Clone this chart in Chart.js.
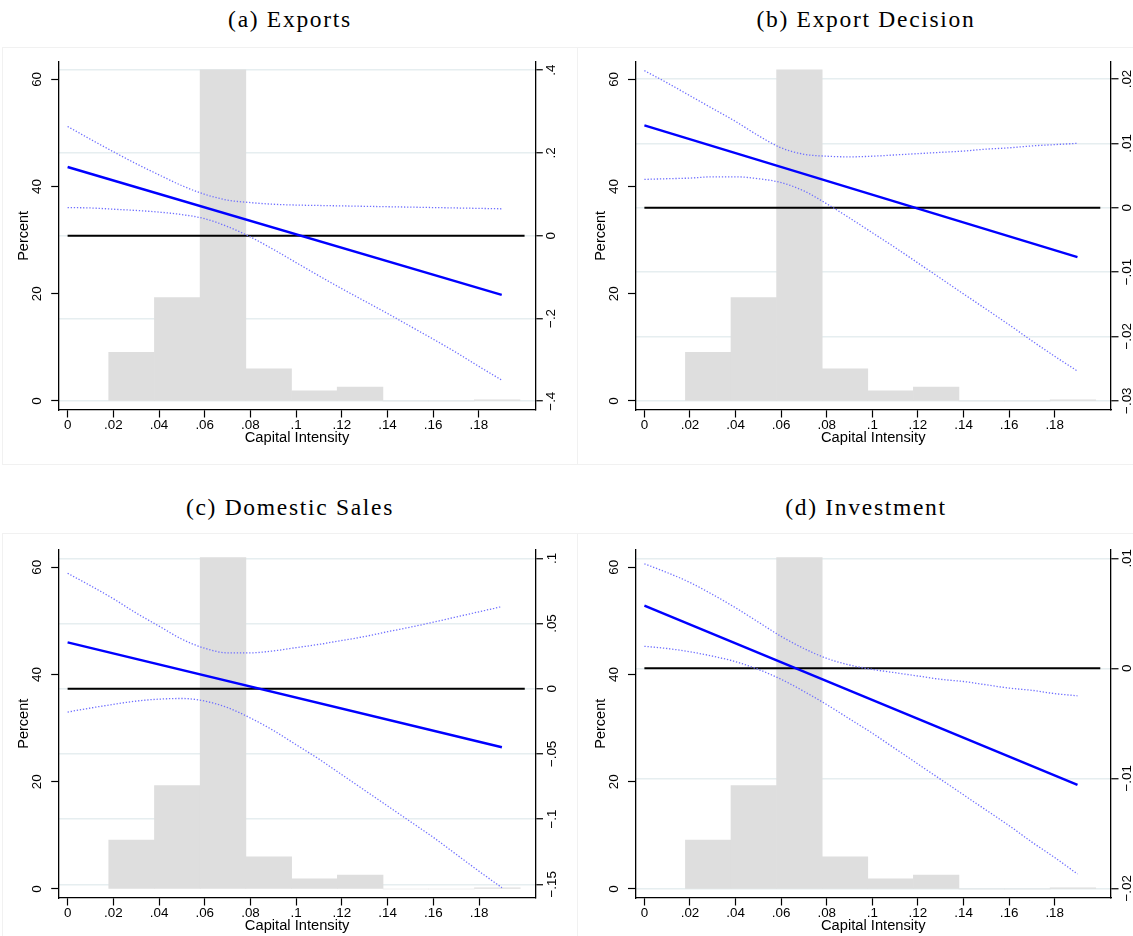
<!DOCTYPE html>
<html><head><meta charset="utf-8">
<script src="https://cdn.jsdelivr.net/npm/chart.js@4.4.1/dist/chart.umd.min.js"></script>
<style>
html,body{margin:0;padding:0;background:#fff;}
body{width:1133px;height:936px;position:relative;overflow:hidden;}
canvas{position:absolute;}
.frame{position:absolute;border:1px solid #f1f1f1;box-sizing:border-box;}
.ptitle{position:absolute;font-family:"Liberation Serif","Times New Roman",serif;font-size:23.5px;letter-spacing:1.7px;white-space:nowrap;transform:translate(-50%,-50%);color:#000;line-height:1;}
</style></head><body>
<script>
// ---------- data ----------
const panelTitles = ["(a) Exports", "(b) Export Decision", "(c) Domestic Sales", "(d) Investment"];
const xTitle = "Capital Intensity";
const yTitle = "Percent";

// histogram of capital intensity (bin centres, percent)
const binCenters = [0.028, 0.048, 0.068, 0.088, 0.108, 0.128, 0.148, 0.168, 0.188];
const binPercent = [9.1, 19.3, 61.8, 6.0, 1.9, 2.6, 0, 0, 0.2];

// marginal effect line endpoints
const fitX = [0, 0.19];
const fitA = [0.166, -0.143];
const fitB = [0.0128, -0.0077];
const fitC = [0.0355, -0.0449];
const fitD = [0.0057, -0.0106];

// confidence band points
const ciX = [0,0.01,0.02,0.03,0.04,0.05,0.06,0.07,0.08,0.09,0.10,0.11,0.12,0.13,0.14,0.15,0.16,0.17,0.18,0.19];
const upperA = [0.264,0.233,0.203,0.174,0.147,0.121,0.100,0.086,0.080,0.076,0.074,0.073,0.072,0.071,0.070,0.069,0.068,0.067,0.066,0.065];
const lowerA = [0.068,0.067,0.064,0.061,0.057,0.051,0.041,0.022,-0.003,-0.033,-0.065,-0.097,-0.128,-0.158,-0.188,-0.219,-0.250,-0.282,-0.316,-0.349];
const upperB = [0.0213,0.0194,0.0174,0.0154,0.0134,0.0112,0.0093,0.0083,0.0080,0.0079,0.0080,0.0082,0.0084,0.0086,0.0088,0.0091,0.0093,0.0096,0.0098,0.0100];
const lowerB = [0.0044,0.0045,0.0046,0.0048,0.0048,0.0045,0.0039,0.0026,0.0006,-0.0016,-0.0039,-0.0062,-0.0086,-0.0110,-0.0134,-0.0158,-0.0182,-0.0207,-0.0231,-0.0254];
const upperC = [0.0885,0.079,0.069,0.058,0.048,0.038,0.031,0.0275,0.0275,0.029,0.0315,0.034,0.037,0.040,0.0437,0.0472,0.051,0.055,0.059,0.063];
const lowerC = [-0.0179,-0.0148,-0.0120,-0.0095,-0.0080,-0.0075,-0.0095,-0.0145,-0.0225,-0.032,-0.043,-0.054,-0.066,-0.078,-0.090,-0.102,-0.114,-0.127,-0.140,-0.1526];
const upperD = [0.0095,0.0087,0.0078,0.0067,0.0055,0.0042,0.0029,0.0018,0.0009,0.0003,-0.0001,-0.0004,-0.0007,-0.0010,-0.0012,-0.0015,-0.0018,-0.0020,-0.0023,-0.0025];
const lowerD = [0.0020,0.0018,0.0015,0.0011,0.0006,-0.0001,-0.0010,-0.0021,-0.0033,-0.0046,-0.0059,-0.0073,-0.0087,-0.0101,-0.0115,-0.0129,-0.0143,-0.0158,-0.0172,-0.0187];

// zero reference line
const zeroX = [0, 0.2];
const zeroY = [0, 0];

// axes
const xRange = [-0.0039, 0.2047];
const xTicks = [0,0.02,0.04,0.06,0.08,0.10,0.12,0.14,0.16,0.18];
const xTickLabels = ["0",".02",".04",".06",".08",".1",".12",".14",".16",".18"];
const pctRange = [-1.68, 63.3];
const pctTicks = [0, 20, 40, 60];
const pctTickLabels = ["0", "20", "40", "60"];
const rangeA = [-0.4213, 0.4205];
const ticksA = [-0.4, -0.2, 0, 0.2, 0.4];
const labelsA = ["\u2212.4", "\u2212.2", "0", ".2", ".4"];
const rangeB = [-0.03145, 0.02269];
const ticksB = [-0.03, -0.02, -0.01, 0, 0.01, 0.02];
const labelsB = ["\u2212.03", "\u2212.02", "\u2212.01", "0", ".01", ".02"];
const rangeC = [-0.1605, 0.10675];
const ticksC = [-0.15, -0.1, -0.05, 0, 0.05, 0.1];
const labelsC = ["\u2212.15", "\u2212.1", "\u2212.05", "0", ".05", ".1"];
const rangeD = [-0.02088, 0.0108];
const ticksD = [-0.02, -0.01, 0, 0.01];
const labelsD = ["\u2212.02", "\u2212.01", "0", ".01"];

// ---------- layout / style ----------
const SANS = "'Liberation Sans', Arial, Helvetica, sans-serif";
const TICK_FS = 13.4;
const TL = 7.5;
const panels = [
  {x:0,   y:0,   w:570, h:460, left:58.7, right:535.3, top:61.7, bottom:410, tx:290, ty:20,
   fit:fitA, up:upperA, lo:lowerA, range:rangeA, ticks:ticksA, labels:labelsA, title:panelTitles[0], frame:[2,47,576,418]},
  {x:570, y:0,   w:563, h:460, left:65.5, right:541, top:61.7, bottom:410, tx:866, ty:20,
   fit:fitB, up:upperB, lo:lowerB, range:rangeB, ticks:ticksB, labels:labelsB, title:panelTitles[1], frame:[577,47,560,418]},
  {x:0,   y:488, w:570, h:460, left:58.7, right:535.5, top:61.5, bottom:410, tx:290, ty:507.5,
   fit:fitC, up:upperC, lo:lowerC, range:rangeC, ticks:ticksC, labels:labelsC, title:panelTitles[2], frame:[2,533,576,410]},
  {x:570, y:488, w:563, h:460, left:65.5, right:541, top:61.5, bottom:410, tx:866, ty:507.5,
   fit:fitD, up:upperD, lo:lowerD, range:rangeD, ticks:ticksD, labels:labelsD, title:panelTitles[3], frame:[577,533,560,410]}
];

const mctx = document.createElement('canvas').getContext('2d');
mctx.font = TICK_FS + "px " + SANS;
const widest = arr => Math.max(...arr.map(s => mctx.measureText(s).width));
const xy = (xs, ys) => xs.map((v, i) => ({x: v, y: ys[i]}));

panels.forEach(p => {
  const fr = document.createElement('div');
  fr.className = 'frame';
  fr.style.left = p.frame[0] + 'px'; fr.style.top = p.frame[1] + 'px';
  fr.style.width = p.frame[2] + 'px'; fr.style.height = p.frame[3] + 'px';
  document.body.appendChild(fr);

  const t = document.createElement('div');
  t.className = 'ptitle'; t.textContent = p.title;
  t.style.left = p.tx + 'px'; t.style.top = p.ty + 'px';
  document.body.appendChild(t);

  const cv = document.createElement('canvas');
  cv.width = p.w; cv.height = p.h;
  cv.style.left = p.x + 'px'; cv.style.top = p.y + 'px';
  cv.style.width = p.w + 'px'; cv.style.height = p.h + 'px';
  document.body.appendChild(cv);

  const leftPad = 21 - TL - widest(pctTickLabels) / 2;
  const rightPad = 16.5 - TL - widest(p.labels) / 2;
  const xTitleFs = 14.7, yTitleFs = 14.5;

  new Chart(cv, {
    type: 'bar',
    data: {datasets: [
      {type: 'line', data: xy(fitX, p.fit), yAxisID: 'y2', borderColor: '#0000ff', borderWidth: 2.4, pointRadius: 0, order: 1},
      {type: 'line', data: xy(ciX, p.up), yAxisID: 'y2', borderColor: '#6f6fff', borderWidth: 1.3, borderDash: [1.3, 1.8], pointRadius: 0, cubicInterpolationMode: 'monotone', order: 2},
      {type: 'line', data: xy(ciX, p.lo), yAxisID: 'y2', borderColor: '#6f6fff', borderWidth: 1.3, borderDash: [1.3, 1.8], pointRadius: 0, cubicInterpolationMode: 'monotone', order: 2},
      {type: 'line', data: xy(zeroX, zeroY), yAxisID: 'y2', borderColor: '#000000', borderWidth: 2, pointRadius: 0, order: 3},
      {type: 'bar', data: xy(binCenters, binPercent), yAxisID: 'y', backgroundColor: '#dedede', borderWidth: 0, barPercentage: 1, categoryPercentage: 1, order: 10}
    ]},
    options: {
      responsive: false, animation: false, devicePixelRatio: 1,
      layout: {padding: {top: p.top, left: 0, right: 0, bottom: 0}},
      plugins: {legend: {display: false}, tooltip: {enabled: false}, title: {display: false}},
      scales: {
        x: {
          type: 'linear', position: 'bottom', min: xRange[0], max: xRange[1], offset: false,
          afterBuildTicks: s => { s.ticks = xTicks.map(v => ({value: v})); },
          afterFit: s => { s.height = p.h - p.bottom; },
          ticks: {autoSkip: false, maxRotation: 0, minRotation: 0, padding: 0, color: '#000',
                  font: {family: SANS, size: TICK_FS}, callback: (v, i) => xTickLabels[i]},
          grid: {display: true, offset: false, drawOnChartArea: false, drawTicks: true, tickLength: TL, tickColor: '#000', tickWidth: 1.2},
          border: {display: true, color: '#000', width: 1.3},
          title: {display: true, text: xTitle, color: '#000', font: {family: SANS, size: xTitleFs},
                  padding: {top: 0, bottom: p.h - 438.3 - xTitleFs * 0.6}}
        },
        y: {
          type: 'linear', position: 'left', min: pctRange[0], max: pctRange[1],
          afterBuildTicks: s => { s.ticks = pctTicks.map(v => ({value: v})); },
          afterFit: s => { s.width = p.left; },
          ticks: {minRotation: 90, maxRotation: 90, crossAlign: 'center', padding: leftPad, color: '#000',
                  font: {family: SANS, size: TICK_FS}, callback: (v, i) => pctTickLabels[i]},
          grid: {display: true, drawOnChartArea: false, drawTicks: true, tickLength: TL, tickColor: '#000', tickWidth: 1.2},
          border: {display: true, color: '#000', width: 1.3},
          title: {display: true, text: yTitle, color: '#000', font: {family: SANS, size: yTitleFs},
                  padding: {top: p.left - 34.8 - yTitleFs * 0.6, bottom: 0}}
        },
        y2: {
          type: 'linear', position: 'right', min: p.range[0], max: p.range[1],
          afterBuildTicks: s => { s.ticks = p.ticks.map(v => ({value: v})); },
          afterFit: s => { s.width = p.w - p.right; },
          ticks: {minRotation: 90, maxRotation: 90, crossAlign: 'center', padding: rightPad, color: '#000',
                  font: {family: SANS, size: TICK_FS}, callback: (v, i) => p.labels[i]},
          grid: {display: true, drawOnChartArea: true, color: '#e6eef0', lineWidth: 1.5, drawTicks: true,
                 tickLength: TL, tickColor: '#000', tickWidth: 1.2},
          border: {display: true, color: '#000', width: 1.3}
        }
      }
    }
  });
});
</script>
</body></html>
